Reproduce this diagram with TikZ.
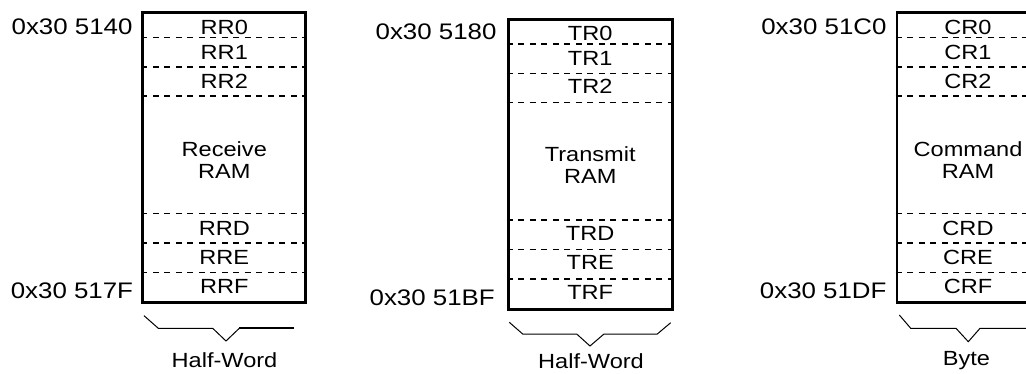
\documentclass[tikz,border=0pt]{standalone}
\usepackage{fontspec}
\setmainfont{Liberation Sans}[FakeStretch=1.15]
\tikzset{
  ramblock/.style={rectangle,draw=black,line width=2.7pt,minimum height=290pt,inner sep=0pt},
  rowsep/.style={dash pattern=on 6pt off 5.5pt,line width=1.4pt},
  rowtext/.style={anchor=base,inner sep=0pt,font=\fontsize{20.5}{22}\selectfont},
  ramtext/.style={align=center,inner sep=0pt,font=\fontsize{20.5}{22}\selectfont},
  addrtext/.style={anchor=base east,inner sep=0pt,font=\fontsize{22.5}{24}\selectfont},
  widthbrace/.style={line width=1pt,line join=miter}
}

\begin{document}
\begin{tikzpicture}[x=1pt,y=1pt]
  \useasboundingbox (0,0) rectangle (1026,373);
  \clip (0,0) rectangle (1026,373);
  % receive RAM
  \node[ramblock, minimum width=163pt] (rbox) at (224.3,215.2) {};
  \draw[rowsep] ([yshift=-26.3pt]rbox.north west) -- ([yshift=-26.3pt]rbox.north east);
  \draw[rowsep] ([yshift=-55.5pt]rbox.north west) -- ([yshift=-55.5pt]rbox.north east);
  \draw[rowsep] ([yshift=-84.5pt]rbox.north west) -- ([yshift=-84.5pt]rbox.north east);
  \draw[rowsep] ([yshift=-202.3pt]rbox.north west) -- ([yshift=-202.3pt]rbox.north east);
  \draw[rowsep] ([yshift=-231.5pt]rbox.north west) -- ([yshift=-231.5pt]rbox.north east);
  \draw[rowsep] ([yshift=-261pt]rbox.north west) -- ([yshift=-261pt]rbox.north east);
  \node[rowtext] (rr0) at (224.3,338) {RR0};
  \node[rowtext] (rr1) at (224.3,313) {RR1};
  \node[rowtext] (rr2) at (224.3,284.7) {RR2};
  \node[ramtext] (rram) at (224.3,213) {Receive\\RAM};
  \node[rowtext] (rrd) at (224.3,137.7) {RRD};
  \node[rowtext] (rre) at (224.3,108.7) {RRE};
  \node[rowtext] (rrf) at (224.3,79.3) {RRF};
  \node[addrtext] (a5140) at (132.7,338) {0x30 5140};
  \node[addrtext] (a517f) at (133.3,74.7) {0x30 517F};
  \draw[widthbrace] (144,57.3) -- (158.3,44.7) -- (212.7,44.7) -- (226,32) -- (239.3,44.7);
  \draw[widthbrace, line width=1.7pt] (239.3,44.7) -- (294,44.7);
  \node[rowtext] (rwidth) at (224.5,5.7) {Half-Word};

  % transmit RAM
  \node[ramblock, minimum width=164pt] (tbox) at (590.2,208.8) {};
  \draw[rowsep] ([yshift=-26.3pt]tbox.north west) -- ([yshift=-26.3pt]tbox.north east);
  \draw[rowsep] ([yshift=-55.5pt]tbox.north west) -- ([yshift=-55.5pt]tbox.north east);
  \draw[rowsep] ([yshift=-84.5pt]tbox.north west) -- ([yshift=-84.5pt]tbox.north east);
  \draw[rowsep] ([yshift=-202.3pt]tbox.north west) -- ([yshift=-202.3pt]tbox.north east);
  \draw[rowsep] ([yshift=-231.5pt]tbox.north west) -- ([yshift=-231.5pt]tbox.north east);
  \draw[rowsep] ([yshift=-261pt]tbox.north west) -- ([yshift=-261pt]tbox.north east);
  \node[rowtext] (tr0) at (590.2,332.5) {TR0};
  \node[rowtext] (tr1) at (590.2,307.5) {TR1};
  \node[rowtext] (tr2) at (590.2,279.2) {TR2};
  \node[ramtext] (tram) at (590.2,207.5) {Transmit\\RAM};
  \node[rowtext] (trd) at (590.2,132.2) {TRD};
  \node[rowtext] (tre) at (590.2,103.2) {TRE};
  \node[rowtext] (trf) at (590.2,73.8) {TRF};
  \node[addrtext] (a5180) at (496.7,333) {0x30 5180};
  \node[addrtext] (a51bf) at (495,68) {0x30 51BF};
  \draw[widthbrace] (509.3,50.7) -- (522.7,39) -- (576.7,39) -- (590,27) -- (604,39) -- (657.3,39) -- (670.7,50.3);
  \node[rowtext] (twidth) at (591,4.5) {Half-Word};

  % command RAM
  \node[ramblock, minimum width=142pt] (cbox) at (968,215.2) {};
  \draw[rowsep] ([yshift=-26.3pt]cbox.north west) -- ([yshift=-26.3pt]cbox.north east);
  \draw[rowsep] ([yshift=-55.5pt]cbox.north west) -- ([yshift=-55.5pt]cbox.north east);
  \draw[rowsep] ([yshift=-84.5pt]cbox.north west) -- ([yshift=-84.5pt]cbox.north east);
  \draw[rowsep] ([yshift=-202.3pt]cbox.north west) -- ([yshift=-202.3pt]cbox.north east);
  \draw[rowsep] ([yshift=-231.5pt]cbox.north west) -- ([yshift=-231.5pt]cbox.north east);
  \draw[rowsep] ([yshift=-261pt]cbox.north west) -- ([yshift=-261pt]cbox.north east);
  \node[rowtext] (cr0) at (968,338) {CR0};
  \node[rowtext] (cr1) at (968,313) {CR1};
  \node[rowtext] (cr2) at (968,284.7) {CR2};
  \node[ramtext] (cram) at (968,213) {Command\\RAM};
  \node[rowtext] (crd) at (968,137.7) {CRD};
  \node[rowtext] (cre) at (968,108.7) {CRE};
  \node[rowtext] (crf) at (968,79.3) {CRF};
  \node[addrtext] (a51c0) at (886.7,338) {0x30 51C0};
  \node[addrtext] (a51df) at (886.7,74.7) {0x30 51DF};
  \draw[widthbrace] (899.3,58) -- (910.7,44.7) -- (956,44.7) -- (968.3,31.3) -- (980,44.7) -- (1030,44.7);
  \node[rowtext] (cwidth) at (966.5,8) {Byte};
\end{tikzpicture}
\end{document}
